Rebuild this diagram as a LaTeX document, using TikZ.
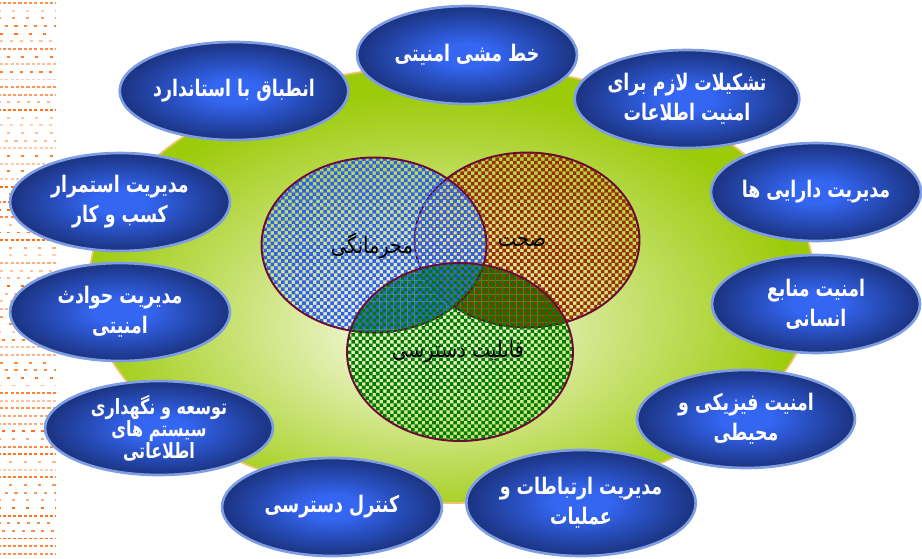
\documentclass[tikz,border=0pt]{standalone}
\usepackage{fontspec}
\newfontfamily\arabicfont[Script=Arabic, FakeStretch=0.85]{DejaVu Sans}
\newfontfamily\arabicnarrow[Script=Arabic, FakeStretch=0.76]{DejaVu Sans}
\TeXXeTstate=1
\usetikzlibrary{shapes.geometric,patterns}

\definecolor{bubin}{HTML}{3466F2}
\definecolor{bubout}{HTML}{1B3380}
\definecolor{bubline}{HTML}{7F9DE2}
\definecolor{greenin}{HTML}{EAF3C4}
\definecolor{greenout}{HTML}{9CCB0A}
\definecolor{rimtan}{HTML}{F0C36C}
\definecolor{vennline}{HTML}{6A0C36}
\definecolor{confblue}{HTML}{3160F0}
\definecolor{integred}{HTML}{9A2E00}
\definecolor{availgreen}{HTML}{007A00}
\definecolor{stripe}{HTML}{FF6A10}

\pgfdeclareradialshading{bubble}{\pgfpointorigin}{color(0bp)=(bubin); color(6bp)=(bubin); color(25bp)=(bubout); color(50bp)=(bubout)}
\pgfdeclareradialshading{greenglow}{\pgfpoint{-2bp}{-6bp}}{color(0bp)=(greenin); color(5bp)=(greenin); color(25bp)=(greenout); color(50bp)=(greenout)}

% two checkerboards, one shifted by a square
\pgfdeclarepatternformonly{checkA}{\pgfqpoint{-.1pt}{-.1pt}}{\pgfqpoint{4.1pt}{4.1pt}}{\pgfqpoint{4pt}{4pt}}{
  \pgfpathrectangle{\pgfpointorigin}{\pgfqpoint{2.05pt}{2.05pt}}
  \pgfpathrectangle{\pgfqpoint{2pt}{2pt}}{\pgfqpoint{2.05pt}{2.05pt}}
  \pgfusepath{fill}}
\pgfdeclarepatternformonly{checkB}{\pgfqpoint{-.1pt}{-.1pt}}{\pgfqpoint{4.1pt}{4.1pt}}{\pgfqpoint{4pt}{4pt}}{
  \pgfpathrectangle{\pgfqpoint{2pt}{0pt}}{\pgfqpoint{2.05pt}{2.05pt}}
  \pgfpathrectangle{\pgfqpoint{0pt}{2pt}}{\pgfqpoint{2.05pt}{2.05pt}}
  \pgfusepath{fill}}

\newcommand{\fa}[1]{\beginR #1\endR}

\begin{document}
\begin{tikzpicture}[x=0.02cm,y=-0.02cm]
    \tikzstyle{topic} = [ellipse, shade, shading=bubble, draw=bubline, line width=1.5pt, text=white, inner sep=0pt, align=center,
      font=\arabicnarrow\bfseries\fontsize{13}{17}\selectfont, minimum width=4.4cm, minimum height=1.96cm]
    \tikzstyle{area} = [ellipse, draw=vennline, line width=1.1pt, minimum width=4.5cm, minimum height=3.5cm]
    \tikzstyle{vlabel} = [font=\arabicfont\fontsize{13}{15}\selectfont, text=black]

    \useasboundingbox (0,0) rectangle (922,558);

    % dashed strip on the left edge
    \pgfmathsetseed{17}
    \foreach \r in {0,...,72} {
      \pgfmathsetmacro{\yy}{3+7.65*\r}
      \pgfmathsetmacro{\gap}{1.2+2.6*random(0,2)}
      \pgfmathsetmacro{\ph}{1.5*random(0,3)}
      \pgfmathsetmacro{\op}{0.3+0.7*rnd}
      \draw[stripe, line width=1.1pt, opacity=\op, dash pattern=on 1.8pt off \gap pt, dash phase=\ph pt] (0,\yy) -- (56,\yy);
    }

    % background disc
    \node[ellipse, shade, shading=greenglow, draw=rimtan, line width=1pt, minimum width=14.52cm, minimum height=8.76cm] (disc) at (452,284) {};

    % the three goals
    \node[area, pattern=checkA, pattern color=integred] (integ) at (527,240) {};
    \node[area, pattern=checkA, pattern color=confblue] (conf) at (374,245) {};
    \node[area, pattern=checkB, pattern color=availgreen, minimum width=4.52cm, minimum height=3.56cm] (avail) at (460,352) {};

    \node[vlabel] (lconf) at (372,246) {\fa{محرمانگی}};
    \node[vlabel] (linteg) at (522,242) {\fa{صحت}};
    \node[vlabel] (lavail) at (458,352) {\fa{قابلیت دسترسی}};

    % control areas around the disc
    \node[topic] (policy) at (467,55) {\fa{خط مشی امنیتی}};
    \node[topic] (organ) at (687,99) {\fa{تشکیلات لازم برای}\\\fa{امنیت اطلاعات}};
    \node[topic, minimum width=4.16cm] (asset) at (816,192) {\fa{مدیریت دارایی ها}};
    \node[topic, minimum width=4.16cm] (human) at (816,304) {\fa{امنیت منابع}\\\fa{انسانی}};
    \node[topic, minimum width=4.36cm] (phys) at (746,419) {\fa{امنیت فیزیکی و}\\\fa{محیطی}};
    \node[topic, minimum width=4.52cm, minimum height=2.12cm] (comm) at (581,503) {\fa{مدیریت ارتباطات و}\\\fa{عملیات}};
    \node[topic] (access) at (332,507) {\fa{کنترل دسترسی}};
    \node[topic, minimum width=4.56cm, minimum height=1.88cm, font=\arabicnarrow\bfseries\fontsize{12}{12.5}\selectfont] (devel) at (159,428)
      {\fa{توسعه و نگهداری}\\\fa{سیستم های}\\\fa{اطلاعاتی}};
    \node[topic] (incid) at (120,312) {\fa{مدیریت حوادث}\\\fa{امنیتی}};
    \node[topic] (bcm) at (120,202) {\fa{مدیریت استمرار}\\\fa{کسب و کار}};
    \node[topic] (comply) at (234,91) {\fa{انطباق با استاندارد}};

\end{tikzpicture}
\end{document}
